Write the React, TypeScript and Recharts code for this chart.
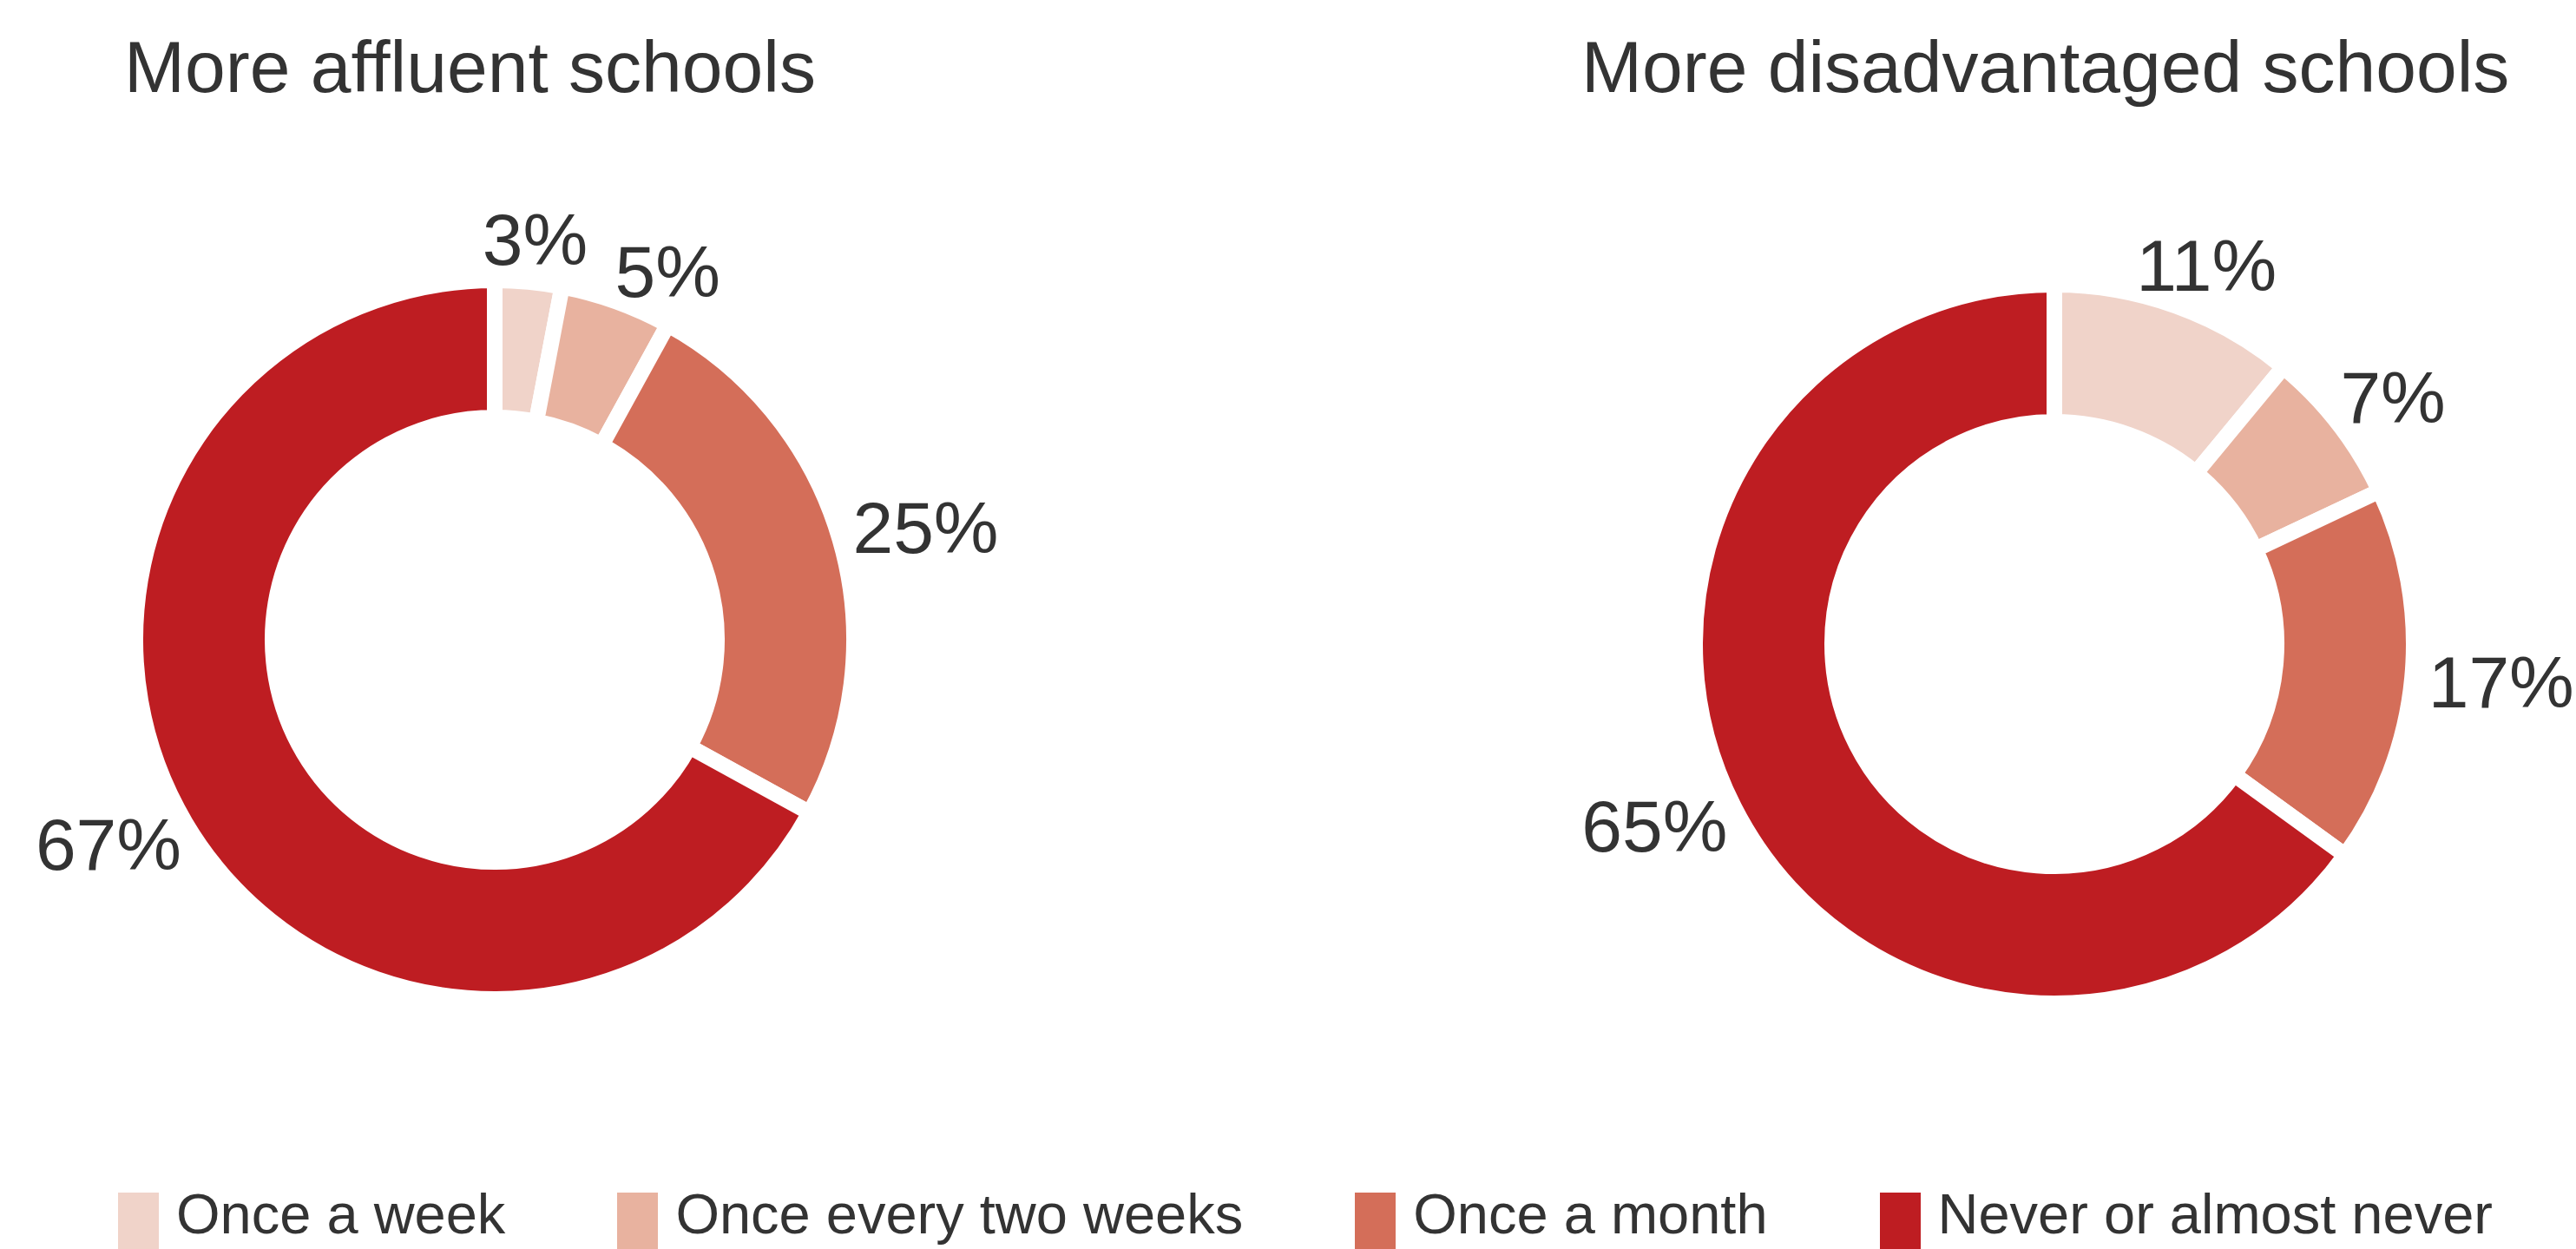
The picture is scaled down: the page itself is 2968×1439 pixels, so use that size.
import React from "react";
import { PieChart, Pie, Cell } from "recharts";

const categories = [
  "Once a week",
  "Once every two weeks",
  "Once a month",
  "Never or almost never",
];
const affluentValues = [3, 5, 25, 67];
const disadvantagedValues = [11, 7, 17, 65];
const titles = ["More affluent schools", "More disadvantaged schools"];

const colors = ["#F0D3C9", "#E8B29F", "#D46E59", "#BE1D22"];
const textColor = "#333333";
const font = '"Liberation Sans", Arial, Helvetica, sans-serif';

const affluentData = categories.map((name, i) => ({ name, value: affluentValues[i] }));
const disadvantagedData = categories.map((name, i) => ({ name, value: disadvantagedValues[i] }));

const LABEL_SIZE = 84;
const LABEL_H = 60;
const LABEL_PAD = 30;
const RAD = Math.PI / 180;

type Box = { x: number; y: number; w: number; h: number };

const overlaps = (a: Box, b: Box) =>
  Math.abs(a.x - b.x) < (a.w + b.w) / 2 + LABEL_PAD &&
  Math.abs(a.y - b.y) < (a.h + b.h) / 2;

// label box sits just outside the ring along the slice's mid angle;
// if it would collide with the previous label it slides clockwise a bit
const makeLabel = () => {
  let placed: Box[] = [];
  return (props: any) => {
    const { cx, cy, midAngle, outerRadius, value, index } = props;
    if (index === 0) placed = [];
    const w = (String(value).length * 0.556 + 0.889) * LABEL_SIZE;
    const r = outerRadius + 19;
    const place = (ang: number): Box => {
      const cos = Math.cos(ang * RAD);
      const sin = Math.sin(ang * RAD);
      return {
        x: cx + r * cos + (cos * w) / 2,
        y: cy - r * sin - (sin * LABEL_H) / 2,
        w,
        h: LABEL_H,
      };
    };
    let ang = midAngle;
    let box = place(ang);
    let guard = 0;
    while (placed.some((p) => overlaps(p, box)) && guard < 30) {
      ang -= 1;
      box = place(ang);
      guard += 1;
    }
    placed.push(box);
    return (
      <text
        x={box.x}
        y={box.y}
        textAnchor="middle"
        dominantBaseline="central"
        fill={textColor}
        fontSize={LABEL_SIZE}
        fontFamily={font}
      >
        {`${value}%`}
      </text>
    );
  };
};

const affluentLabel = makeLabel();
const disadvantagedLabel = makeLabel();

export default function App() {
  return (
    <div
      style={{
        position: "absolute",
        left: 0,
        top: 0,
        width: 2968,
        height: 1439,
        overflow: "hidden",
        background: "#fff",
        fontFamily: font,
        color: textColor,
      }}
    >
      <div style={{ position: "absolute", left: 143, top: 35, fontSize: 84, lineHeight: 1, whiteSpace: "nowrap" }}>
        {titles[0]}
      </div>
      <div style={{ position: "absolute", left: 1822, top: 35, fontSize: 84, lineHeight: 1, whiteSpace: "nowrap" }}>
        {titles[1]}
      </div>

      <div style={{ position: "absolute", left: 0, top: 0 }}>
        <PieChart width={2968} height={1439}>
          <Pie
            data={affluentData}
            dataKey="value"
            nameKey="name"
            cx={565}
            cy={732}
            innerRadius={256}
            outerRadius={414}
            startAngle={90}
            endAngle={-270}
            stroke="#ffffff"
            strokeWidth={18}
            label={affluentLabel}
            labelLine={false}
            isAnimationActive={false}
          >
            {affluentData.map((d, i) => (
              <Cell key={d.name} fill={colors[i]} />
            ))}
          </Pie>
          <Pie
            data={disadvantagedData}
            dataKey="value"
            nameKey="name"
            cx={2362}
            cy={737}
            innerRadius={256}
            outerRadius={414}
            startAngle={90}
            endAngle={-270}
            stroke="#ffffff"
            strokeWidth={18}
            label={disadvantagedLabel}
            labelLine={false}
            isAnimationActive={false}
          >
            {disadvantagedData.map((d, i) => (
              <Cell key={d.name} fill={colors[i]} />
            ))}
          </Pie>
        </PieChart>
      </div>

      <div
        style={{
          position: "absolute",
          left: 136,
          top: 1366,
          display: "flex",
          alignItems: "flex-start",
          fontSize: 65,
          lineHeight: 1,
          whiteSpace: "nowrap",
        }}
      >
        {categories.map((c, i) => (
          <div key={c} style={{ display: "flex", alignItems: "flex-start", marginRight: 129 }}>
            <div style={{ width: 47, height: 73, marginTop: 8, marginRight: 20, background: colors[i] }} />
            <span>{c}</span>
          </div>
        ))}
      </div>
    </div>
  );
}
